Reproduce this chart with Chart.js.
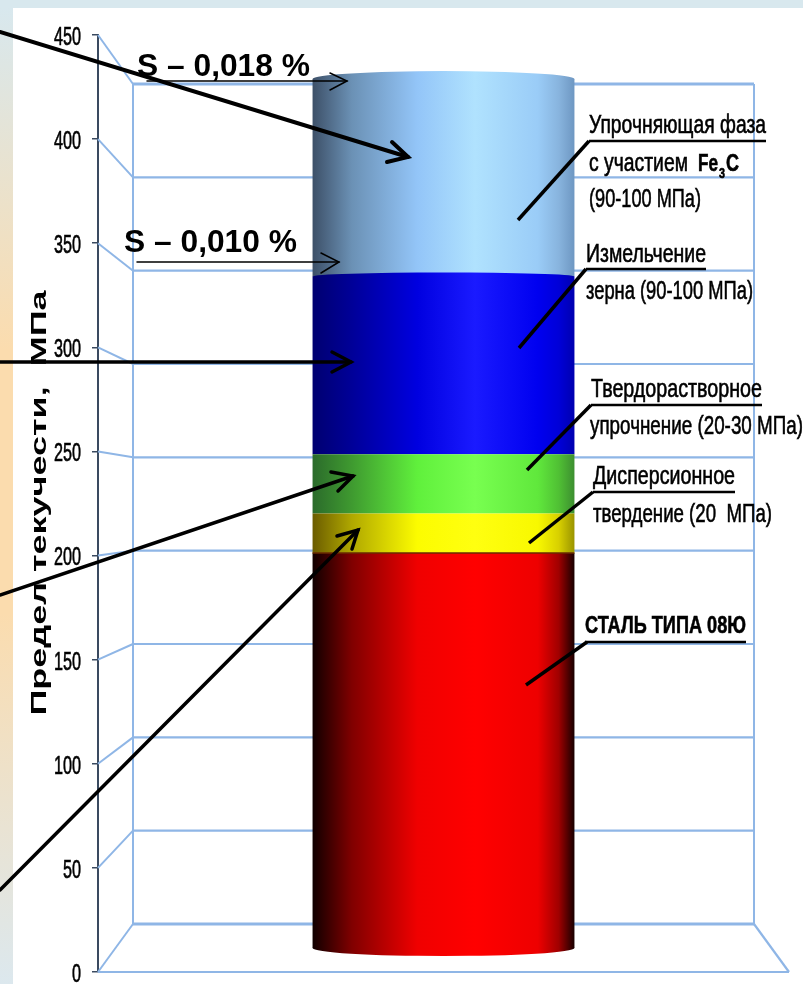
<!DOCTYPE html>
<html lang="ru">
<head>
<meta charset="utf-8">
<title>Предел текучести</title>
<script src="https://cdn.jsdelivr.net/npm/chart.js@4"></script>
<style>
    html, body { margin: 0; height: 984px; overflow: hidden; background: #d8e8ee; }
    #strip { position: absolute; left: 0; top: 8px; width: 13px; height: 976px;
        background: linear-gradient(#d8e8ee 0%, #fbdcae 35%, #fbdcae 62%, #dce8ee 100%); }
    #panel { position: absolute; left: 13px; top: 8px; width: 790px; height: 976px; background: #fff; }
    canvas { position: absolute; left: 0; top: 0; }
</style>
</head>
<body>
<div id="strip"></div>
<div id="panel"></div>
<canvas id="yieldChart" width="803" height="984"></canvas>
<script>
const categories = ['08Ю'];
const layerNames = ['Сталь', 'Дисперсионное', 'Твердорастворное', 'Измельчение', 'Упрочняющая фаза'];
const layerValues = [200, 20, 30, 90, 100];
const gridValues = [0, 50, 100, 150, 200, 250, 300, 350, 400, 450];

const axisTitle = 'Предел текучести,  МПа';
const sulfurLabels = ['S – 0,018 %', 'S – 0,010 %'];
const phaseLines = ['Упрочняющая фаза', 'с участием', 'Fe', '3', 'C', '(90-100 МПа)'];
const grainLines = ['Измельчение', 'зерна (90-100 МПа)'];
const solidLines = ['Твердорастворное', 'упрочнение (20-30 МПа)'];
const dispLines = ['Дисперсионное', 'твердение (20  МПа)'];
const steelLabel = 'СТАЛЬ ТИПА 08Ю';

const stops = [0, 0.15, 0.4, 0.62, 0.86, 0.94, 1];
const shades = [
    ['#100000', '#800000', '#f00000', '#ff0000', '#ee0000', '#a00000', '#180000'],
    ['#6b5c00', '#b0a800', '#fcfc00', '#ffff10', '#f8f800', '#d8d000', '#9a9400'],
    ['#2b6b2b', '#3f9a30', '#60f03c', '#78ff50', '#60e83c', '#50c034', '#3d8f30'],
    ['#000070', '#000098', '#0000e0', '#1a1aff', '#0000f0', '#0000d8', '#0000b0'],
    ['#3d5068', '#6b91b5', '#93c5f8', '#b0e2fe', '#9accf7', '#88b4de', '#6e97c2']
];

const wallLeft = 133, wallRight = 754;
const gridColor = '#8fb6e6';

function layerFill(i, chart) {
    if (!chart.chartArea) return shades[i][3]; // not laid out yet
    const x = chart.scales.x.getPixelForValue(0);
    const half = chart.chartArea.width * 0.379 / 2;
    const g = chart.ctx.createLinearGradient(x - half, 0, x + half, 0);
    stops.forEach((s, k) => g.addColorStop(s, shades[i][k]));
    return g;
}

function line(ctx, x1, y1, x2, y2, w, color) {
    ctx.beginPath();
    ctx.moveTo(x1, y1);
    ctx.lineTo(x2, y2);
    ctx.lineWidth = w;
    ctx.strokeStyle = color || '#000';
    ctx.stroke();
}

function arrow(ctx, x1, y1, x2, y2, w, ax, ay, bx, by) {
    ctx.lineCap = 'round';
    line(ctx, x1, y1, x2, y2, w);
    ctx.beginPath();
    ctx.moveTo(ax, ay);
    ctx.lineTo(x2, y2);
    ctx.lineTo(bx, by);
    ctx.lineWidth = w;
    ctx.stroke();
    ctx.lineCap = 'butt';
}

// squeezed text: the width limit narrows the glyphs, the thin stroke keeps them heavy
function narrow(ctx, text, x, y, width, font) {
    ctx.font = font || '26px "Liberation Sans"';
    ctx.fillStyle = '#000';
    ctx.strokeStyle = '#000';
    ctx.lineWidth = 0.6;
    ctx.textBaseline = 'middle';
    ctx.textAlign = 'left';
    ctx.fillText(text, x, y + 1, width);
    ctx.strokeText(text, x, y + 1, width);
}

// back wall, floor and the slanted links from the value axis
const wallPlugin = {
    id: 'wall',
    beforeDatasetsDraw(chart) {
        const { ctx, scales, chartArea } = chart;
        const top = scales.wall.getPixelForValue(450);
        const bottom = scales.wall.getPixelForValue(0);
        ctx.save();
        gridValues.forEach(v => {
            const wy = scales.wall.getPixelForValue(v);
            line(ctx, wallLeft, wy, wallRight, wy, v === 0 || v === 450 ? 3 : 2.2, gridColor);
            line(ctx, chartArea.left, scales.y.getPixelForValue(v), wallLeft, wy, 2, gridColor);
        });
        line(ctx, wallLeft, top, wallLeft, bottom, 2, gridColor);
        line(ctx, wallRight, top, wallRight, bottom, 2, gridColor);
        line(ctx, chartArea.left, chartArea.bottom, chartArea.right, chartArea.bottom, 2.2, gridColor);
        line(ctx, wallRight, bottom, chartArea.right, chartArea.bottom, 2.2, gridColor);
        ctx.restore();
    }
};

// rounded caps that turn the flat stacked bars into a cylinder
const capPlugin = {
    id: 'caps',
    afterDatasetsDraw(chart) {
        const { ctx } = chart;
        const cap = (i, bar, y, ry) => {
            ctx.beginPath();
            ctx.ellipse(bar.x, y, bar.width / 2, ry, 0, 0, Math.PI * 2);
            ctx.fillStyle = layerFill(i, chart);
            ctx.fill();
        };
        const base = chart.getDatasetMeta(0).data[0];
        const blue = chart.getDatasetMeta(3).data[0];
        const light = chart.getDatasetMeta(4).data[0];
        ctx.save();
        cap(0, base, base.base, 8);
        cap(4, light, light.y, 8);
        cap(3, blue, blue.y, 4);
        line(ctx, base.x - base.width / 2, base.y, base.x + base.width / 2, base.y, 1.5, '#6a2a00');
        ctx.restore();
    }
};

// value labels, axis caption, callouts and arrows on top of the chart
const notesPlugin = {
    id: 'notes',
    afterDraw(chart) {
        const { ctx, scales } = chart;
        ctx.save();

        ctx.textAlign = 'left';
        scales.y.ticks.forEach(t => {
            const text = String(t.value);
            narrow(ctx, text, 81 - text.length * 9, scales.y.getPixelForValue(t.value) + 2, text.length * 9,
                '25px "Liberation Sans"');
        });

        // the caption is stretched along its length, as on the slide
        ctx.save();
        ctx.translate(40, 503);
        ctx.rotate(-Math.PI / 2);
        ctx.font = 'bold 22px "Liberation Sans"';
        ctx.scale(425 / ctx.measureText(axisTitle).width, 1);
        ctx.fillStyle = '#000';
        ctx.textAlign = 'center';
        ctx.textBaseline = 'middle';
        ctx.fillText(axisTitle, 0, 0);
        ctx.restore();

        ctx.font = 'bold 32px "Liberation Sans"';
        ctx.fillStyle = '#000';
        ctx.textBaseline = 'middle';
        ctx.textAlign = 'left';
        ctx.fillText(sulfurLabels[0], 137, 67, 173);
        ctx.fillText(sulfurLabels[1], 124, 243, 173);

        arrow(ctx, 147, 81, 347, 81, 1.5, 330, 73, 330, 90);
        arrow(ctx, 137, 262, 339, 262, 1.5, 321, 253, 321, 273);

        arrow(ctx, 0, 32, 408, 157, 4, 392, 142, 387, 162);
        arrow(ctx, 0, 362, 351, 362, 3.5, 332, 352, 332, 372);
        arrow(ctx, 0, 595, 353, 476, 3.5, 331, 472, 338, 491);
        arrow(ctx, 0, 890, 358, 530, 3.5, 337, 536, 352, 549);

        narrow(ctx, phaseLines[0], 589, 125, 177);
        narrow(ctx, phaseLines[1], 589, 163, 99);
        narrow(ctx, phaseLines[2], 698, 163, 20, 'bold 24px "Liberation Sans"');
        narrow(ctx, phaseLines[3], 719, 173, 6, 'bold 14px "Liberation Sans"');
        narrow(ctx, phaseLines[4], 726, 163, 13, 'bold 24px "Liberation Sans"');
        narrow(ctx, phaseLines[5], 589, 199, 112);
        line(ctx, 589, 141, 766, 141, 2.5);
        line(ctx, 589, 141, 518, 220, 3.5);

        narrow(ctx, grainLines[0], 586, 254, 120);
        narrow(ctx, grainLines[1], 586, 291, 167);
        line(ctx, 586, 269, 706, 269, 2.5);
        line(ctx, 586, 269, 519, 348, 3.5);

        narrow(ctx, solidLines[0], 591, 389, 171);
        narrow(ctx, solidLines[1], 590, 426, 213);
        line(ctx, 591, 405, 762, 405, 2.5);
        line(ctx, 591, 405, 527, 470, 3.5);

        narrow(ctx, dispLines[0], 593, 476, 142);
        narrow(ctx, dispLines[1], 593, 514, 179);
        line(ctx, 593, 492, 735, 492, 2.5);
        line(ctx, 593, 492, 529, 543, 3.5);

        narrow(ctx, steelLabel, 585, 625, 161, 'bold 24px "Liberation Sans"');
        line(ctx, 585, 642, 746, 642, 2.5);
        line(ctx, 587, 642, 526, 685, 3.5);

        ctx.restore();
    }
};

new Chart(document.getElementById('yieldChart'), {
    type: 'bar',
    data: {
        labels: categories,
        datasets: layerValues.map((v, i) => ({
            label: layerNames[i],
            data: [v],
            yAxisID: 'cyl',
            barPercentage: 0.379,
            categoryPercentage: 1,
            backgroundColor: c => layerFill(i, c.chart)
        }))
    },
    plugins: [wallPlugin, capPlugin, notesPlugin],
    options: {
        responsive: false,
        animation: false,
        layout: { padding: { top: 35, bottom: 12, right: 14 } },
        plugins: { legend: { display: false }, tooltip: { enabled: false } },
        scales: {
            x: { stacked: true, display: false },
            y: {
                min: 0,
                max: 450,
                afterFit(s) { s.width = 98; },
                ticks: { stepSize: 50, display: false },
                grid: { drawOnChartArea: false, tickLength: 6, color: '#3a4a60', lineWidth: 1.5 },
                border: { color: '#3a4a60', width: 2 }
            },
            // depth offsets of the 3D box: wall plane and cylinder plane
            wall: { axis: 'y', display: false, min: -25.71, max: 476.25 },
            cyl: { axis: 'y', display: false, stacked: true, min: -12.15, max: 462.3 }
        }
    }
});
</script>
</body>
</html>
